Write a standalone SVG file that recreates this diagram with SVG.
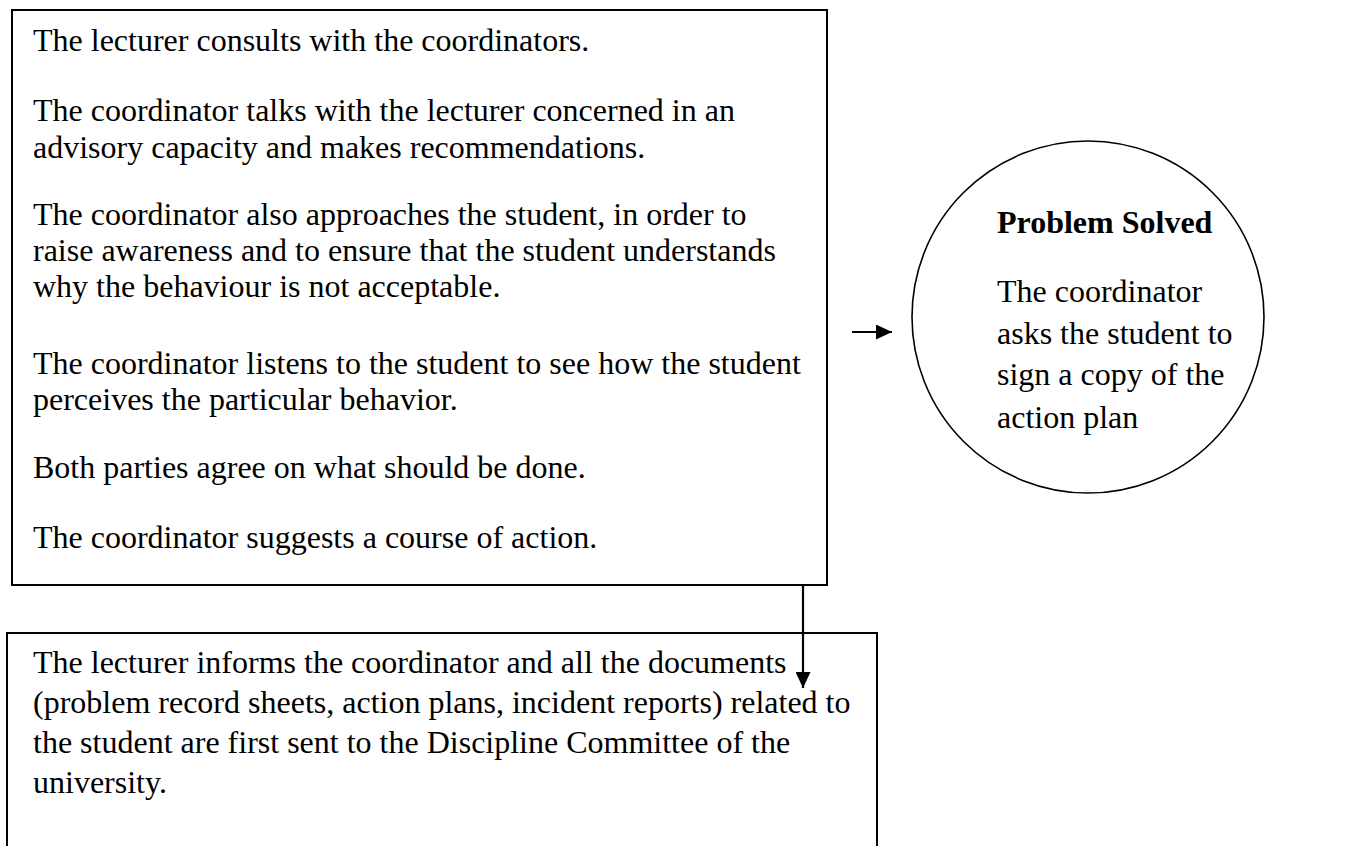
<svg xmlns="http://www.w3.org/2000/svg" width="1355" height="846" viewBox="0 0 1355 846">
<style>
.box{fill:#fff;stroke:#000;stroke-width:2}
.oval{fill:#fff;stroke:#000;stroke-width:1.6}
.t{font-family:"Liberation Serif","Times New Roman",serif;font-size:32px;fill:#000}
.b{font-weight:bold}
.c{stroke:#000;stroke-width:2.2;fill:none}
</style>
<defs>
<marker id="ah" markerWidth="16" markerHeight="15" refX="16" refY="7.5" orient="auto" markerUnits="userSpaceOnUse">
<path d="M0,0 L16,7.5 L0,15 Z" fill="#000"/>
</marker>
</defs>
<rect width="1355" height="846" fill="#fff"/>
<g id="box-consult">
<rect class="box" x="12" y="10" width="815" height="575"/>
<text class="t" x="33" y="51">The lecturer consults with the coordinators.</text>
<text class="t" x="33" y="121">The coordinator talks with the lecturer concerned in an</text>
<text class="t" x="33" y="158">advisory capacity and makes recommendations.</text>
<text class="t" x="33" y="225">The coordinator also approaches the student, in order to</text>
<text class="t" x="33" y="261">raise awareness and to ensure that the student understands</text>
<text class="t" x="33" y="297">why the behaviour is not acceptable.</text>
<text class="t" x="33" y="374">The coordinator listens to the student to see how the student</text>
<text class="t" x="33" y="410">perceives the particular behavior.</text>
<text class="t" x="33" y="478">Both parties agree on what should be done.</text>
<text class="t" x="33" y="548">The coordinator suggests a course of action.</text>
</g>
<g id="box-inform">
<rect class="box" x="7" y="633" width="870" height="260"/>
<text class="t" x="33" y="673">The lecturer informs the coordinator and all the documents</text>
<text class="t" x="33" y="713">(problem record sheets, action plans, incident reports) related to</text>
<text class="t" x="33" y="753">the student are first sent to the Discipline Committee of the</text>
<text class="t" x="33" y="793">university.</text>
</g>
<g id="solved">
<ellipse class="oval" cx="1088" cy="317" rx="176" ry="176"/>
<text class="t b" x="997" y="233">Problem Solved</text>
<text class="t" x="997" y="302">The coordinator</text>
<text class="t" x="997" y="344">asks the student to</text>
<text class="t" x="997" y="385">sign a copy of the</text>
<text class="t" x="997" y="428">action plan</text>
</g>
<g id="connectors">
<line class="c" x1="852" y1="332" x2="892" y2="332" marker-end="url(#ah)"/>
<line class="c" x1="803" y1="585" x2="803" y2="688" marker-end="url(#ah)"/>
</g>
</svg>
